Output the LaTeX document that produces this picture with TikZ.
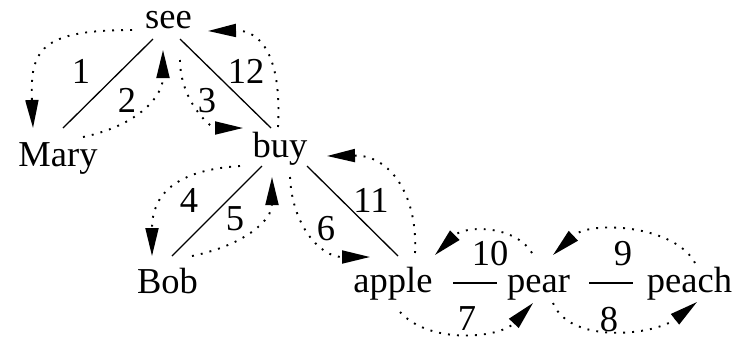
\documentclass[tikz,border=0pt]{standalone}
\usepackage{fontspec}
\setmainfont{Liberation Serif}
\usetikzlibrary{arrows.meta,calc}
\begin{document}
\begin{tikzpicture}[x=1pt,y=-1pt,
  word/.style={anchor=base,inner sep=0pt,font=\fontsize{36.5}{40}\selectfont},
  num/.style={anchor=base,inner sep=0pt,font=\fontsize{36.5}{40}\selectfont},
  edge/.style={line width=1.3pt},
  arr/.style={line width=1.9pt,dash pattern=on 1.9pt off 7.1pt,
    -{Triangle[length=28pt,width=13pt]}}]
\useasboundingbox (0,0) rectangle (735,338);
% words
\node[word] (see) at (168.5,28) {see};
\node[word] (Mary) at (58,166) {Mary};
\node[word] (buy) at (280,157) {buy};
\node[word] (Bob) at (167.5,293) {Bob};
\node[word] (apple) at (393,292) {apple};
\node[word] (pear) at (538.5,292) {pear};
\node[word] (peach) at (689.5,292) {peach};
% numbers
\node[num] (n1) at (81,83) {1};
\node[num] (n2) at (127,112) {2};
\node[num] (n3) at (207,112) {3};
\node[num] (n12) at (246,83) {12};
\node[num] (n4) at (189,212) {4};
\node[num] (n5) at (235,230) {5};
\node[num] (n6) at (326,240) {6};
\node[num] (n11) at (371,212) {11};
\node[num] (n10) at (490,265) {10};
\node[num] (n9) at (623,265) {9};
\node[num] (n7) at (467,330) {7};
\node[num] (n8) at (609,331) {8};
% solid edges
\draw[edge] ($(see.base)+(-15.5,11)$) -- ($(Mary.base)+(5,-38)$);
\draw[edge] ($(see.base)+(11.5,11)$) -- ($(buy.base)+(-9,-29)$);
\draw[edge] ($(buy.base)+(-18,9)$) -- ($(Bob.base)+(4.5,-37)$);
\draw[edge] ($(buy.base)+(27,9)$) -- ($(apple.base)+(5,-36)$);
\draw[edge] ($(apple.base)+(60,-9)$) -- ($(pear.base)+(-41.5,-9)$);
\draw[edge] ($(pear.base)+(50.5,-9)$) -- ($(peach.base)+(-56.5,-9)$);
% dotted arrows
\draw[arr] ($(see.base)+(-36.5,2)$) .. controls +(-92,0) and +(-3,-78) .. ($(Mary.base)+(-25,-38)$);
\draw[arr] ($(Mary.base)+(25,-29)$) .. controls +(57,-12) and +(0,45) .. ($(see.base)+(-5.5,22)$);
\draw[arr] ($(see.base)+(11.5,32)$) .. controls +(0,40) and +(-33,0) .. ($(buy.base)+(-37,-29)$);
\draw[arr] ($(buy.base)+(-2,-30)$) .. controls +(4,-72) and +(52,-1) .. ($(see.base)+(39.5,3)$);
\draw[arr] ($(buy.base)+(-40,9)$) .. controls +(-65,4) and +(0,-61) .. ($(Bob.base)+(-15.5,-37)$);
\draw[arr] ($(Bob.base)+(24.5,-37)$) .. controls +(53,-11) and +(0,43) .. ($(buy.base)+(-8,20)$);
\draw[arr] ($(buy.base)+(10,20)$) .. controls +(2,48) and +(-50,0) .. ($(apple.base)+(-23,-35)$);
\draw[arr] ($(apple.base)+(22,-39)$) .. controls +(3,-58) and +(63,-1) .. ($(buy.base)+(47,-1)$);
\draw[arr] ($(apple.base)+(7,20)$) .. controls +(30,33) and +(-33,35) .. ($(pear.base)+(-5.5,11)$);
\draw[arr] ($(pear.base)+(-6.5,-39)$) .. controls +(-17,-28) and +(30,-30) .. ($(apple.base)+(42,-37)$);
\draw[arr] ($(pear.base)+(14.5,11)$) .. controls +(17,42) and +(-42,33) .. ($(peach.base)+(7.5,10)$);
\draw[arr] ($(peach.base)+(5.5,-29)$) .. controls +(-20,-38) and +(37,-35) .. ($(pear.base)+(14.5,-37)$);
\end{tikzpicture}
\end{document}
